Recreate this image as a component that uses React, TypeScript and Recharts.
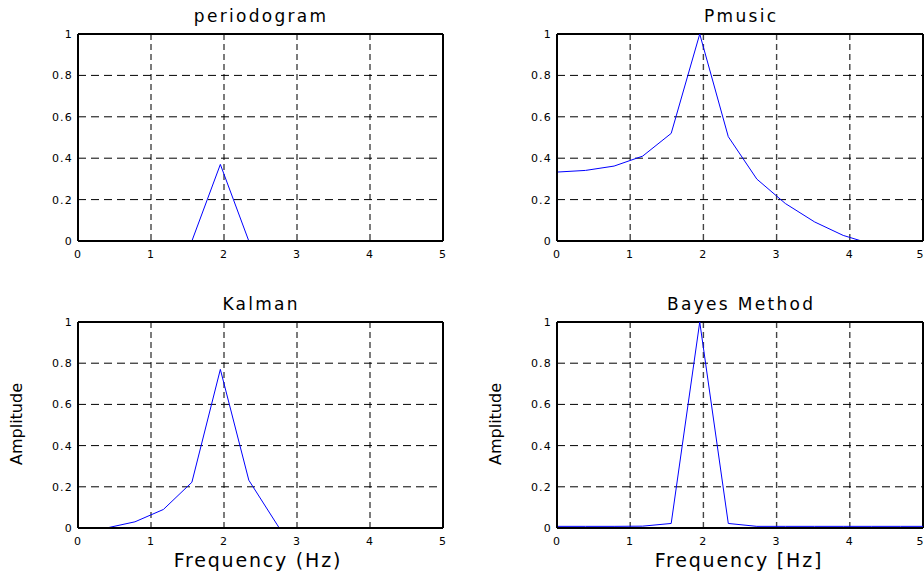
import React from "react";
import {
  LineChart,
  Line,
  XAxis,
  YAxis,
  CartesianGrid,
  ReferenceLine,
} from "recharts";

// frequency bins (Hz) shared by all four spectra
const FREQ = [0, 0.39, 0.78, 1.17, 1.56, 1.95, 2.34, 2.73, 3.12, 3.52, 3.91, 4.3, 4.69, 5.08];

const PERIODOGRAM = [null, null, null, null, 0, 0.37, 0, null, null, null, null, null, null, null];
const PMUSIC = [0.333, 0.341, 0.362, 0.41, 0.52, 1.0, 0.504, 0.299, 0.181, 0.092, 0.027, -0.015, null, null];
const KALMAN = [null, 0, 0.03, 0.09, 0.222, 0.77, 0.232, 0.015, -0.2, null, null, null, null, null];
const BAYES = [0.008, 0.008, 0.008, 0.009, 0.022, 1.0, 0.022, 0.008, 0.008, 0.008, 0.008, 0.008, 0.008, 0.008];

const X_TICKS = [0, 1, 2, 3, 4, 5];
const Y_TICKS = [0, 0.2, 0.4, 0.6, 0.8, 1];

const FONT = "'DejaVu Sans', 'Liberation Sans', sans-serif";

const toRows = (values: (number | null)[]) =>
  FREQ.map((f, i) => ({ f, amp: values[i] }));

type PanelProps = {
  values: (number | null)[];
  left: number;
  top: number;
  width: number;
  height: number;
  margin: { top: number; right: number; bottom: number; left: number };
};

const tickStyle = { fontSize: 11, fill: "#000", fontFamily: FONT, letterSpacing: 1.2 };

const Panel = ({ values, left, top, width, height, margin }: PanelProps) => (
  <div style={{ position: "absolute", left, top }}>
    <LineChart width={width} height={height} data={toRows(values)} margin={margin}>
      <CartesianGrid horizontal={false} stroke="#444" strokeWidth={1.4} strokeDasharray="6 4" />
      <CartesianGrid vertical={false} stroke="#000" strokeWidth={1} strokeDasharray="8 5" />
      <XAxis
        dataKey="f"
        type="number"
        domain={[0, 5]}
        ticks={X_TICKS}
        allowDataOverflow
        height={20}
        tickSize={0}
        tickMargin={9}
        tick={tickStyle}
        axisLine={{ stroke: "#000", strokeWidth: 2 }}
      />
      <YAxis
        type="number"
        domain={[0, 1]}
        ticks={Y_TICKS}
        allowDataOverflow
        width={40}
        tickSize={0}
        tickMargin={5}
        tick={tickStyle}
        axisLine={{ stroke: "#000", strokeWidth: 2 }}
      />
      <ReferenceLine y={1} stroke="#000" strokeWidth={2} />
      <ReferenceLine x={5} stroke="#000" strokeWidth={2} />
      <Line
        dataKey="amp"
        stroke="#0000ff"
        strokeWidth={1}
        dot={false}
        activeDot={false}
        connectNulls={false}
        isAnimationActive={false}
      />
    </LineChart>
  </div>
);

const Title = ({ text, cx, top, size, spacing }: { text: string; cx: number; top: number; size: number; spacing: number }) => (
  <div
    style={{
      position: "absolute",
      left: cx - 150,
      top,
      width: 300,
      textAlign: "center",
      fontFamily: FONT,
      fontSize: size,
      lineHeight: `${size}px`,
      letterSpacing: spacing,
      paddingLeft: spacing,
      boxSizing: "border-box",
      color: "#000",
      whiteSpace: "nowrap",
    }}
  >
    {text}
  </div>
);

const YLabel = ({ cx, cy }: { cx: number; cy: number }) => (
  <div
    style={{
      position: "absolute",
      left: cx - 60,
      top: cy - 8,
      width: 120,
      height: 16,
      lineHeight: "16px",
      textAlign: "center",
      fontFamily: FONT,
      fontSize: 16,
      transform: "rotate(-90deg)",
      transformOrigin: "50% 50%",
      color: "#000",
    }}
  >
    Amplitude
  </div>
);

export default function App() {
  return (
    <div
      style={{
        position: "absolute",
        left: 0,
        top: 0,
        width: 924,
        height: 573,
        overflow: "hidden",
        background: "#fff",
      }}
    >
      <Panel values={PERIODOGRAM} left={0} top={0} width={460} height={270}
        margin={{ top: 34, right: 17, bottom: 9, left: 38 }} />
      <Panel values={PMUSIC} left={460} top={0} width={464} height={270}
        margin={{ top: 34, right: 1, bottom: 9, left: 57 }} />
      <Panel values={KALMAN} left={0} top={280} width={460} height={293}
        margin={{ top: 42, right: 17, bottom: 25, left: 38 }} />
      <Panel values={BAYES} left={460} top={280} width={464} height={293}
        margin={{ top: 42, right: 1, bottom: 25, left: 57 }} />

      <Title text="periodogram" cx={260} top={8} size={17} spacing={2.3} />
      <Title text="Pmusic" cx={740} top={8} size={17} spacing={2.3} />
      <Title text="Kalman" cx={260} top={296} size={17} spacing={2.3} />
      <Title text="Bayes Method" cx={740} top={296} size={17} spacing={2.3} />

      <Title text="Frequency (Hz)" cx={257} top={551} size={19} spacing={1.8} />
      <Title text="Frequency [Hz]" cx={738} top={551} size={19} spacing={1.8} />

      <YLabel cx={17} cy={424} />
      <YLabel cx={496} cy={424} />
    </div>
  );
}
